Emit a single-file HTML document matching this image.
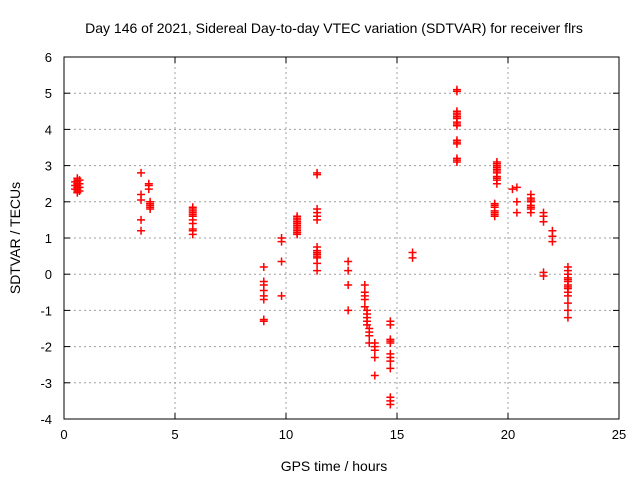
<!DOCTYPE html>
<html><head><meta charset="utf-8"><style>
body{margin:0;background:#fff}
svg{display:block;font-family:"Liberation Sans",sans-serif}
</style></head><body>
<svg id="chart" width="640" height="480" xmlns="http://www.w3.org/2000/svg">
<text x="334" y="33" font-size="14" text-anchor="middle">Day 146 of 2021, Sidereal Day-to-day VTEC variation (SDTVAR) for receiver flrs</text>
<g id="grid"></g>
<g id="ticks"></g>
<g id="marks"></g>
<rect x="64" y="57" width="555" height="362" fill="none" stroke="#000" stroke-width="1"/>
<text x="334" y="471" font-size="14" text-anchor="middle">GPS time / hours</text>
<text transform="translate(20,238) rotate(-90)" font-size="14" text-anchor="middle">SDTVAR / TECUs</text>
</svg>
<script>
const xTicks=[0,5,10,15,20,25];
const yTicks=[-4,-3,-2,-1,0,1,2,3,4,5,6];
const clusterTimes=[0.6,0.5,0.7,3.47,3.82,3.88,5.8,9.0,9.8,10.5,11.4,12.8,13.55,13.65,13.75,14.0,14.7,15.7,17.7,19.5,19.4,20.2,20.4,21.03,21.6,22.0,22.7];
const clusterValues=[
[2.6,2.5,2.4,2.3,2.55,2.35,2.25,2.45,2.65],
[2.45,2.55,2.35],
[2.6,2.3,2.5,2.4],
[2.8,2.2,2.05,1.5,1.2],
[2.5,2.45,2.35],
[1.95,1.9,1.85,1.8,2.0],
[1.85,1.8,1.7,1.6,1.5,1.4,1.25,1.2,1.1,1.75,1.65],
[0.2,-0.2,-0.3,-0.45,-0.6,-0.7,-1.25,-1.3],
[1.0,0.9,0.35,-0.6],
[1.6,1.5,1.4,1.3,1.2,1.1,1.55,1.35,1.45,1.25,1.15],
[2.8,2.75,1.8,1.7,1.6,1.5,0.75,0.65,0.55,0.45,0.3,0.1,0.6,0.5],
[0.35,0.1,-0.3,-1.0],
[-0.3,-0.5,-0.6,-0.7,-0.9],
[-1.0,-1.1,-1.2,-1.3,-1.4],
[-1.5,-1.6,-1.7,-1.9],
[-1.9,-2.0,-2.1,-2.3,-2.8],
[-1.3,-1.4,-1.8,-1.85,-1.9,-2.2,-2.3,-2.4,-2.6,-3.4,-3.5,-3.6],
[0.6,0.45],
[5.1,5.05,4.5,4.45,4.4,4.35,4.3,4.2,4.15,4.1,3.7,3.65,3.6,3.2,3.15,3.1],
[3.1,3.05,3.0,2.95,2.9,2.85,2.8,2.7,2.65,2.6,2.5],
[1.95,1.9,1.85,1.75,1.7,1.65,1.6],
[2.35],
[2.4,2.0,1.7],
[2.2,2.1,2.05,2.0,1.9,1.85,1.8,1.7],
[1.7,1.6,1.45,0.05,-0.05],
[1.2,1.05,0.9],
[0.2,0.1,0,-0.1,-0.15,-0.2,-0.3,-0.35,-0.4,-0.5,-0.6,-0.8,-1.0,-1.2]];
const X0=64,X1=619,Y0=419,Y1=57;
const sx=v=>X0+(v-0)/25*(X1-X0);
const sy=v=>Y0-(v+4)/10*(Y0-Y1);
const NS="http://www.w3.org/2000/svg";
const grid=document.getElementById('grid'),ticks=document.getElementById('ticks'),marks=document.getElementById('marks');
function mk(t,a,p){const e=document.createElementNS(NS,t);for(const k in a)e.setAttribute(k,a[k]);p.appendChild(e);return e;}
xTicks.forEach(t=>{const x=sx(t);
 if(t>0&&t<25){const g=mk('line',{x1:x,x2:x,y1:Y1,y2:Y0,stroke:'#a0a0a0','stroke-dasharray':'2,3'},grid);
 
 }
 mk('line',{x1:x,x2:x,y1:Y0,y2:Y0-6,stroke:'#000'},ticks);mk('line',{x1:x,x2:x,y1:Y1,y2:Y1+6,stroke:'#000'},ticks);
 const l=mk('text',{x:x,y:Y0+20,'font-size':13,'text-anchor':'middle'},ticks);l.textContent=t;
 
 });
yTicks.forEach(t=>{const y=sy(t);
 if(t>-4&&t<6){const g=mk('line',{x1:X0,x2:X1,y1:y,y2:y,stroke:'#a0a0a0','stroke-dasharray':'2,3'},grid);
 
 }
 mk('line',{x1:X0,x2:X0+6,y1:y,y2:y,stroke:'#000'},ticks);mk('line',{x1:X1,x2:X1-6,y1:y,y2:y,stroke:'#000'},ticks);
 const l=mk('text',{x:X0-12,y:y+5,'font-size':13,'text-anchor':'end'},ticks);l.textContent=t;
 
 });
clusterTimes.forEach((t,c)=>{clusterValues[c].forEach(v=>{const x=sx(t),y=sy(v);
 const p=mk('path',{d:`M${x-4},${y}H${x+4}M${x},${y-4}V${y+4}`,stroke:'#ff0000','stroke-width':1.5,fill:'none'},marks);
 
 });});
</script>
</body></html>
